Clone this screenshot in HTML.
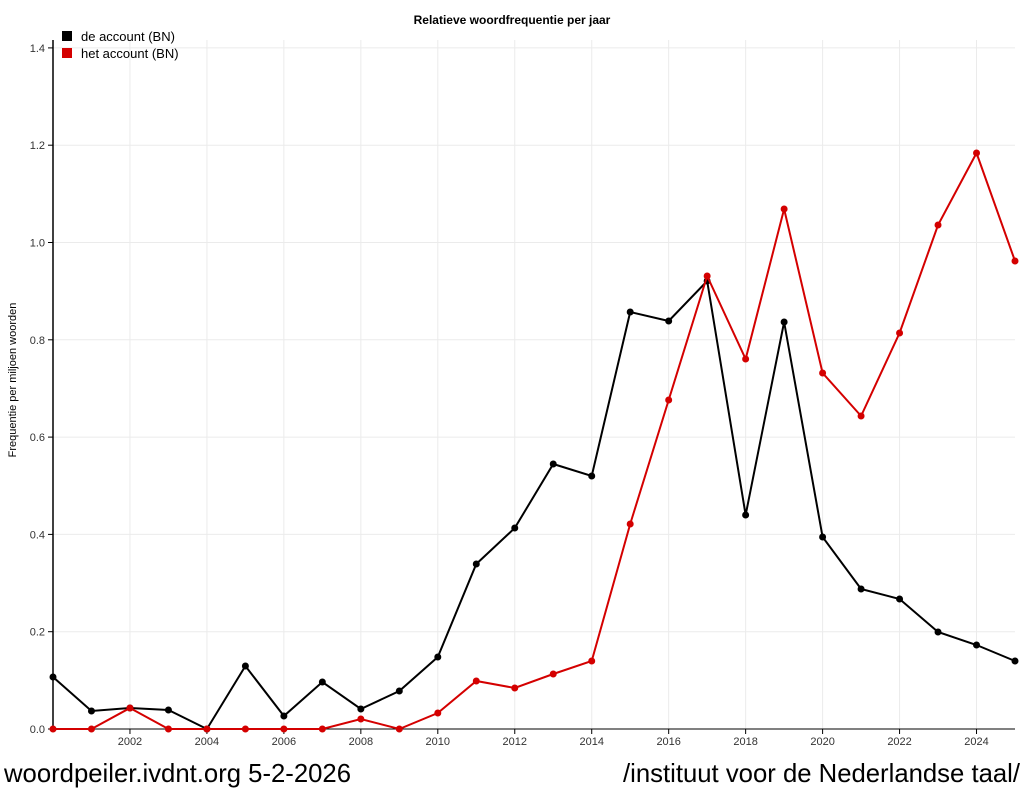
<!DOCTYPE html>
<html><head><meta charset="utf-8"><style>
html,body{margin:0;padding:0;background:#fff;width:1024px;height:794px;overflow:hidden;font-family:"Liberation Sans",sans-serif}
</style></head><body>
<svg id="s" width="1024" height="794" xmlns="http://www.w3.org/2000/svg" font-family="Liberation Sans, sans-serif">
<text x="512" y="24" text-anchor="middle" font-size="12" font-weight="bold">Relatieve woordfrequentie per jaar</text>
<g id="grid" stroke="#ebebeb" stroke-width="1"></g>
<g id="ticks" font-size="11" fill="#333"></g>
<line x1="53" y1="40" x2="53" y2="729" stroke="#000" stroke-width="1.5"/>
<line x1="53" y1="729" x2="1015" y2="729" stroke="#000" stroke-width="1"/>
<text transform="translate(16,380) rotate(-90)" text-anchor="middle" font-size="11">Frequentie per miljoen woorden</text>
<rect x="62" y="31" width="10" height="10" fill="#000"/>
<text x="81" y="41" font-size="13">de account (BN)</text>
<rect x="62" y="48" width="10" height="10" fill="#d40000"/>
<text x="81" y="58" font-size="13">het account (BN)</text>
<g id="series"></g>
<text x="4" y="782" font-size="25.7">woordpeiler.ivdnt.org 5-2-2026</text>
<text x="1020" y="782" font-size="25.7" text-anchor="end">/instituut voor de Nederlandse taal/</text>
</svg>
<script>
var ns="http://www.w3.org/2000/svg";
function el(t,a,p){var e=document.createElementNS(ns,t);for(var k in a)e.setAttribute(k,a[k]);document.getElementById(p).appendChild(e);return e;}
function X(i){return 53+38.48*i;}
for(var v=1;v<=7;v++){var y=729-v*97.3;el('line',{x1:53,x2:1015,y1:y,y2:y},'grid');}
for(var i=2;i<=24;i+=2){el('line',{x1:X(i),x2:X(i),y1:40,y2:729},'grid');}
for(var v=0;v<=7;v++){var y=729-v*97.3;el('line',{x1:48,x2:53,y1:y,y2:y,stroke:'#000'},'ticks');var t=el('text',{x:45,y:y+4,'text-anchor':'end'},'ticks');t.textContent=(v*0.2).toFixed(1);}
for(var i=2;i<=24;i+=2){el('line',{x1:X(i),x2:X(i),y1:729,y2:734,stroke:'#000'},'ticks');var t=el('text',{x:X(i),y:745,'text-anchor':'middle'},'ticks');t.textContent=2000+i;}
var b=[677,711,708,710,729,666,716,682,709,691,657,564,528,464,476,312,321,281,515,322,537,589,599,632,645,661];
var r=[729,729,708,729,729,729,729,729,719,729,713,681,688,674,661,524,400,276,359,209,373,416,333,225,153,261];
function draw(d,c){var p=d.map(function(y,i){return X(i)+','+y;}).join(' ');el('polyline',{points:p,fill:'none',stroke:c,'stroke-width':2},'series');d.forEach(function(y,i){el('circle',{cx:X(i),cy:y,r:3.5,fill:c},'series');});}
draw(b,'#000');draw(r,'#d40000');
</script>
</body></html>
